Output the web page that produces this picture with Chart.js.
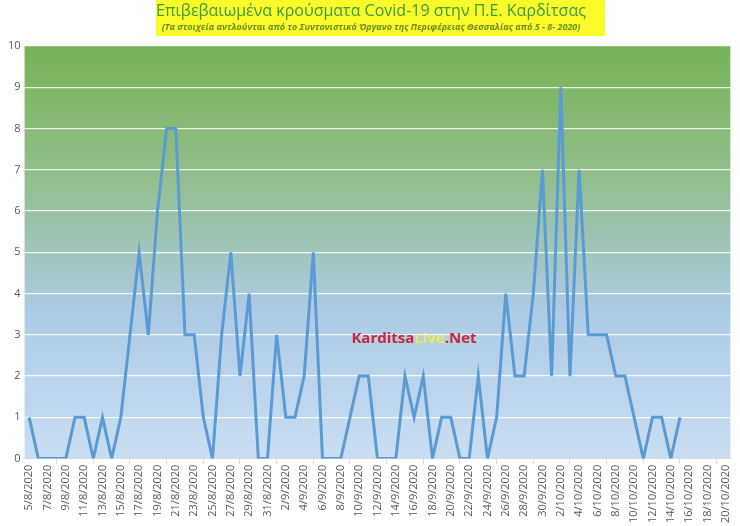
<!DOCTYPE html>
<html>
<head>
<meta charset="utf-8">
<script src="https://cdn.jsdelivr.net/npm/chart.js@4"></script>
<style>
  html, body { margin: 0; padding: 0; background: #fff; }
  #wrap { width: 740px; height: 526px; }
</style>
</head>
<body>
<div id="wrap"><canvas id="covid"></canvas></div>
<script>
// dates 5/8/2020 .. 20/10/2020, one per day
var dates = [
  '5/8/2020','6/8/2020','7/8/2020','8/8/2020','9/8/2020','10/8/2020','11/8/2020','12/8/2020',
  '13/8/2020','14/8/2020','15/8/2020','16/8/2020','17/8/2020','18/8/2020','19/8/2020','20/8/2020',
  '21/8/2020','22/8/2020','23/8/2020','24/8/2020','25/8/2020','26/8/2020','27/8/2020','28/8/2020',
  '29/8/2020','30/8/2020','31/8/2020',
  '1/9/2020','2/9/2020','3/9/2020','4/9/2020','5/9/2020','6/9/2020','7/9/2020','8/9/2020',
  '9/9/2020','10/9/2020','11/9/2020','12/9/2020','13/9/2020','14/9/2020','15/9/2020','16/9/2020',
  '17/9/2020','18/9/2020','19/9/2020','20/9/2020','21/9/2020','22/9/2020','23/9/2020','24/9/2020',
  '25/9/2020','26/9/2020','27/9/2020','28/9/2020','29/9/2020','30/9/2020',
  '1/10/2020','2/10/2020','3/10/2020','4/10/2020','5/10/2020','6/10/2020','7/10/2020','8/10/2020',
  '9/10/2020','10/10/2020','11/10/2020','12/10/2020','13/10/2020','14/10/2020','15/10/2020','16/10/2020',
  '17/10/2020','18/10/2020','19/10/2020','20/10/2020'
];

// confirmed cases per day (no data after 15/10)
var cases = [
  1,0,0,0,0,1,1,0,1,0,1,3,5,3,6,8,8,3,3,1,0,3,5,2,4,0,0,
  3,1,1,2,5,0,0,0,1,2,2,0,0,0,2,1,2,0,1,1,0,0,2,0,1,4,2,2,4,7,
  2,9,2,7,3,3,3,2,2,1,0,1,1,0,1,null,null,null,null,null
];

var yTicks = [0,1,2,3,4,5,6,7,8,9,10];

var titleText = 'Επιβεβαιωμένα κρούσματα Covid-19 στην Π.Ε. Καρδίτσας';
var subtitleText = '(Τα στοιχεία αντλούνται από το Συντονιστικό Όργανο της Περιφέρειας Θεσσαλίας από 5 - 8- 2020)';

var decor = {
  id: 'decor',
  beforeDraw: function(chart) {
    var c = chart.ctx, a = chart.chartArea;
    // yellow title box
    c.save();
    c.fillStyle = '#fbfb2a';
    c.fillRect(156, 0, 449, 36);
    // plot area gradient
    var g = c.createLinearGradient(0, a.top, 0, a.bottom);
    g.addColorStop(0, '#77b357');
    g.addColorStop(0.3, '#90be88');
    g.addColorStop(0.65, '#adcbe6');
    g.addColorStop(1, '#c9def2');
    c.fillStyle = g;
    c.fillRect(a.left, a.top, a.right - a.left, a.bottom - a.top);
    c.restore();
  },
  afterDatasetsDraw: function(chart) {
    var c = chart.ctx;
    c.save();
    c.font = 'bold 15px "Open Sans"';
    c.textBaseline = 'middle';
    var parts = [['Karditsa', '#c8283a'], ['Live', '#ecec50'], ['.Net', '#c8283a']];
    var total = 0;
    parts.forEach(function(p) { total += c.measureText(p[0]).width; });
    var x = 414 - total / 2;
    parts.forEach(function(p) {
      c.fillStyle = p[1];
      c.fillText(p[0], x, 339);
      x += c.measureText(p[0]).width;
    });
    c.restore();
  }
};

new Chart(document.getElementById('covid'), {
  type: 'line',
  data: {
    labels: dates,
    datasets: [{
      data: cases,
      borderColor: '#5b9bd5',
      borderWidth: 3,
      pointRadius: 0,
      tension: 0,
      spanGaps: false
    }]
  },
  options: {
    responsive: true,
    maintainAspectRatio: false,
    animation: false,
    layout: { padding: { left: 4, right: 2, top: 0, bottom: 2 } },
    plugins: {
      legend: { display: false },
      tooltip: { enabled: false },
      title: {
        display: true,
        text: titleText,
        color: '#3c9a48',
        font: { family: '"Open Sans"', size: 16, weight: 'normal' },
        padding: { top: 2, bottom: 1 }
      },
      subtitle: {
        display: true,
        text: subtitleText,
        color: '#6a8c2a',
        font: { family: '"Open Sans"', size: 9, weight: 'bold', style: 'italic' },
        padding: { top: 0, bottom: 13 }
      }
    },
    scales: {
      x: {
        offset: true,
        grid: {
          offset: true,
          drawOnChartArea: false,
          tickLength: 5,
          color: function(ctx) { return ctx.index % 2 === 0 ? '#d9d9d9' : 'rgba(0,0,0,0)'; }
        },
        border: { color: '#d9d9d9' },
        ticks: {
          autoSkip: false,
          minRotation: 90,
          maxRotation: 90,
          color: '#595959',
          font: { family: '"Open Sans"', size: 11 },
          padding: 1,
          callback: function(v, i) { return i % 2 === 0 ? dates[i] : null; }
        }
      },
      y: {
        min: 0,
        max: 10,
        afterBuildTicks: function(axis) { axis.ticks = yTicks.map(function(v) { return { value: v }; }); },
        grid: { color: 'rgba(255,255,255,0.85)', lineWidth: 1.2, drawTicks: false },
        border: { display: false },
        ticks: {
          color: '#595959',
          font: { family: '"Open Sans"', size: 11 },
          padding: 4
        }
      }
    }
  },
  plugins: [decor]
});
</script>
</body>
</html>
